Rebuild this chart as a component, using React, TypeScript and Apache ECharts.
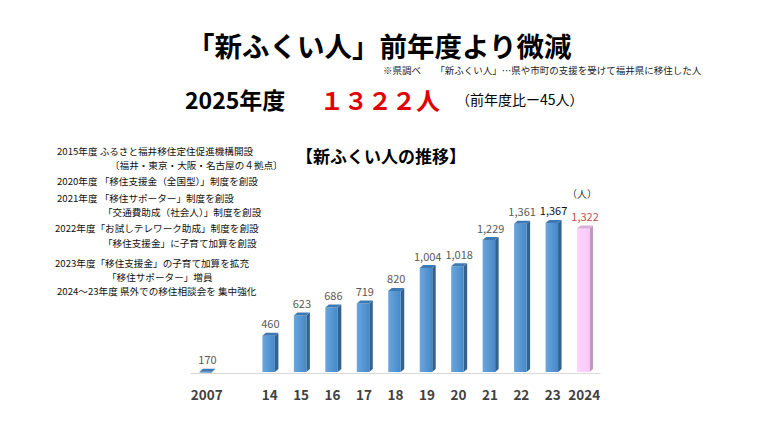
import * as echarts from 'echarts'
import { useEffect, useRef } from 'react'

// 年度ラベル（2007 と 14 の間は空き）
const categories = ['2007', '', '14', '15', '16', '17', '18', '19', '20', '21', '22', '23', '2024']
const newFukuiPeople = [170, null, 460, 623, 686, 719, 820, 1004, 1018, 1229, 1361, 1367, 1322]

const notes = [
  '2015年度 ふるさと福井移住定住促進機構開設',
  '〔福井・東京・大阪・名古屋の４拠点〕',
  '2020年度 「移住支援金（全国型）」制度を創設',
  '2021年度 「移住サポーター」制度を創設',
  '「交通費助成（社会人）」制度を創設',
  '2022年度「お試しテレワーク助成」制度を創設',
  '「移住支援金」に子育て加算を創設',
  '2023年度「移住支援金」の子育て加算を拡充',
  '「移住サポーター」増員',
  '2024～23年度 県外での移住相談会を 集中強化',
]
const notePos = [
  [57, 151], [110, 165], [57, 181], [57, 198], [103, 212],
  [55, 228], [103, 243], [55, 263], [107, 277], [57, 291],
]

const FONT = '"Noto Sans CJK JP", "Noto Sans", sans-serif'
const Y_MIN = 160

export default function App() {
  const chartRef = useRef<HTMLDivElement>(null)

  useEffect(() => {
    if (!chartRef.current) return
    const chart = echarts.init(chartRef.current, undefined, { renderer: 'svg' })
    const lastIdx = categories.length - 1

    const option: any = {
      animation: false,
      backgroundColor: '#ffffff',
      textStyle: { fontFamily: FONT },
      grid: { left: 191, right: 180, top: 194, bottom: 65 },
      xAxis: {
        type: 'category',
        data: categories,
        axisTick: { show: false },
        axisLine: { lineStyle: { color: '#d9d9d9', width: 1 } },
        axisLabel: {
          interval: 0,
          margin: 14,
          fontSize: 13.5,
          fontWeight: 'bold',
          color: '#404040',
          fontFamily: FONT,
        },
      },
      yAxis: {
        type: 'value',
        min: Y_MIN,
        max: 1600,
        show: false,
        splitLine: { show: false },
      },
      series: [
        {
          type: 'custom',
          data: categories
            .map((c, i) => [i, newFukuiPeople[i]])
            .filter((d) => d[1] != null),
          renderItem: (params: any, api: any) => {
            const idx = api.value(0)
            const val = api.value(1)
            const top = api.coord([idx, val])
            const base = api.coord([idx, Y_MIN])
            const w = 12.5
            const sd = 3.5
            const dy = 3
            const x0 = top[0] - w / 2 - 1
            const x1 = x0 + w
            const yt = top[1]
            const yb = base[1] - 1
            const pink = idx === lastIdx
            const front = pink
              ? new echarts.graphic.LinearGradient(0, 0, 1, 0, [
                  { offset: 0, color: '#ffd4ff' },
                  { offset: 1, color: '#fbc8f8' },
                ])
              : new echarts.graphic.LinearGradient(0, 0, 1, 0, [
                  { offset: 0, color: '#6aa6de' },
                  { offset: 1, color: '#4688c8' },
                ])
            const side = pink ? '#c29ac0' : '#33628f'
            const topC = pink ? '#d8aed5' : '#3e79b4'
            const labelColor = pink ? '#c0504d' : idx === lastIdx - 1 ? '#111111' : '#595959'
            return {
              type: 'group',
              children: [
                {
                  type: 'polygon',
                  shape: { points: [[x1, yt], [x1 + sd, yt - dy], [x1 + sd, yb - dy], [x1, yb]] },
                  style: { fill: side },
                },
                {
                  type: 'rect',
                  shape: { x: x0, y: yt, width: w, height: Math.max(yb - yt, 1) },
                  style: { fill: front },
                },
                {
                  type: 'polygon',
                  shape: { points: [[x0, yt], [x0 + sd, yt - dy], [x1 + sd, yt - dy], [x1, yt]] },
                  style: { fill: topC },
                },
                {
                  type: 'text',
                  x: x0 + (w + sd) / 2,
                  y: yt - dy - 4,
                  style: {
                    text: echarts.format.addCommas(val),
                    fontSize: 11,
                    fontFamily: FONT,
                    fill: labelColor,
                    align: 'center',
                    verticalAlign: 'bottom',
                  },
                },
              ],
            }
          },
        },
      ],
      graphic: [
        {
          type: 'text', x: 187, y: 45,
          style: {
            text: '「新ふくい人」前年度より微減', fontSize: 27.5, fontWeight: 'bold', lineHeight: 27,
            fill: '#000', fontFamily: FONT, verticalAlign: 'middle',
          },
        },
        {
          type: 'text', x: 383, y: 70,
          style: {
            text: '※県調べ　　「新ふくい人」…県や市町の支援を受けて福井県に移住した人',
            fontSize: 9.5, lineHeight: 10, fill: '#222', fontFamily: FONT, verticalAlign: 'middle',
          },
        },
        {
          type: 'text', x: 185, y: 99,
          style: { text: '2025年度', fontSize: 23, fontWeight: 'bold', fill: '#000', fontFamily: FONT, verticalAlign: 'middle' },
        },
        {
          type: 'text', x: 320, y: 99,
          style: { text: '１３２２人', fontSize: 24, fontWeight: 'bold', fill: '#e00000', fontFamily: FONT, verticalAlign: 'middle' },
        },
        {
          type: 'text', x: 456, y: 99,
          style: { text: '（前年度比ー45人）', fontSize: 14, fill: '#000', fontFamily: FONT, verticalAlign: 'middle' },
        },
        {
          type: 'text', x: 296, y: 155,
          style: { text: '【新ふくい人の推移】', fontSize: 17, fontWeight: 'bold', fill: '#000', fontFamily: FONT, verticalAlign: 'middle' },
        },
        {
          type: 'text', x: 582, y: 193,
          style: { text: '（人）', fontSize: 10, fill: '#333', fontFamily: FONT, align: 'center', verticalAlign: 'middle' },
        },
        ...notes.map((t, i) => ({
          type: 'text',
          x: notePos[i][0],
          y: notePos[i][1],
          style: {
            text: t, fontSize: 9.6, lineHeight: 10, fill: '#111',
            fontFamily: FONT, verticalAlign: 'middle',
          },
        })),
      ],
    }

    chart.setOption(option)
    return () => {
      chart.dispose()
    }
  }, [])

  return (
    <div
      ref={chartRef}
      style={{ position: 'fixed', left: 0, top: 0, width: '780px', height: '438px' }}
    />
  )
}
